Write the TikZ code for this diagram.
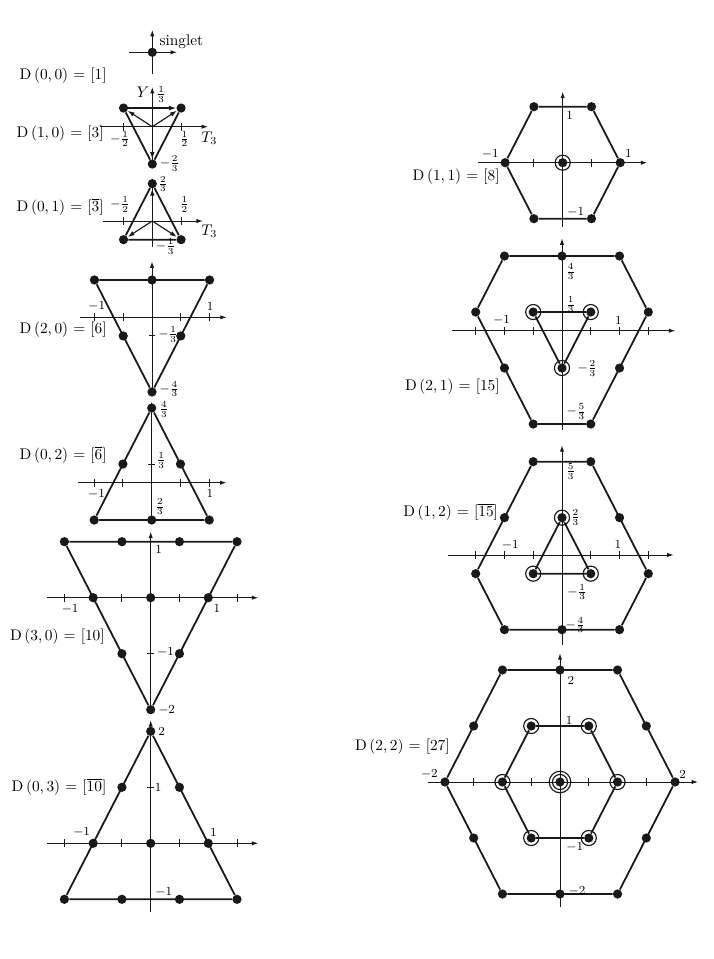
\documentclass[tikz,border=0pt]{standalone}
\usepackage{amsmath}
\usepackage{tikz}
\usetikzlibrary{arrows.meta}

\begin{document}
\begin{tikzpicture}[x=0.65pt, y=-0.65pt,
    dot/.style={circle, fill=black!90, inner sep=0pt, minimum size=6pt},
    ring/.style={circle, draw=black!90, line width=0.75pt, inner sep=0pt,
      minimum size=9.8pt},
    bigring/.style={ring, minimum size=14pt},
    ax/.style={-{Latex[length=4.2pt,width=2.8pt]}, line width=0.65pt, black!90},
    axtick/.style={line width=0.65pt, black!90},
    wline/.style={line width=1.15pt, black!90},
    arr/.style={-{Latex[length=4.5pt,width=3pt]}, line width=0.75pt, black!90},
    num/.style={font=\footnotesize, inner sep=1pt},
    rep/.style={anchor=east, inner sep=0pt},
    lat/.style={x=37.4pt, y=36.4pt}
]
\fill[white] (0,0) rectangle (714,959);
\useasboundingbox (0,0) rectangle (714,959);

% singlet
\begin{scope}[shift={(152.3,52.3)}, lat]
  \draw[ax] (-0.4,0) -- (0.43,0);
  \draw[ax] (0,-0.39) -- (0,0.4);
  \node[dot] (one) at (0,0) {};
  \node[anchor=west, inner sep=0pt] (one-name) at (0.12,0.19) {singlet};
\end{scope}
\node[rep] (rep-one) at (107,76) {D\,(0,\,0) $=$ [1]};

% triplet
\begin{scope}[shift={(152.3,126.7)}, lat]
  \draw[ax] (-0.91,0) -- (0.97,0);
  \draw[ax] (0,-0.6) -- (0,0.71);
  \foreach \t in {-0.5,0.5} \draw[axtick] (\t,-0.07) -- (\t,0.07);
  \coordinate (tri-o) at (0,0);
  \node[dot] (tri-u) at (-0.5,1/3) {};
  \node[dot] (tri-d) at (0.5,1/3) {};
  \node[dot] (tri-s) at (0,-2/3) {};
  \draw[arr] (tri-o) -- (tri-u);
  \draw[arr] (tri-o) -- (tri-d);
  \draw[arr] (tri-o) -- (tri-s);
  \draw[arr] (tri-u) -- (tri-d);
  \draw[wline] (tri-d) -- (tri-s) -- (tri-u);
  \node[num, font=\normalsize] (tri-y) at (-0.16,0.62) {$Y$};
  \node[num, anchor=west] (tri-f1) at (0.04,0.58) {$\frac{1}{3}$};
  \node[num, font=\normalsize] (tri-t3) at (0.99,-0.2) {$T_3$};
  \node[num] (tri-f2) at (-0.56,-0.22) {$-\frac{1}{2}$};
  \node[num] (tri-f3) at (0.56,-0.22) {$\frac{1}{2}$};
  \node[num, anchor=west] (tri-f4) at (0.1,-0.66) {$-\frac{2}{3}$};
\end{scope}
\node[rep] (rep-tri) at (104,134) {D\,(1,\,0) $=$ [3]};

% antitriplet
\begin{scope}[shift={(152.3,221)}, lat]
  \draw[ax] (-0.86,0) -- (0.88,0);
  \draw[ax] (0,-0.46) -- (0,0.72);
  \foreach \t in {-0.5,0.5} \draw[axtick] (\t,-0.07) -- (\t,0.07);
  \coordinate (bar-o) at (0,0);
  \node[dot] (bar-u) at (0,2/3) {};
  \node[dot] (bar-l) at (-0.5,-1/3) {};
  \node[dot] (bar-r) at (0.5,-1/3) {};
  \draw[arr] (bar-o) -- (bar-u);
  \draw[arr] (bar-o) -- (bar-l);
  \draw[arr] (bar-o) -- (bar-r);
  \draw[wline] (bar-l) -- (bar-r) -- (bar-u) -- (bar-l);
  \node[num, anchor=west] (bar-f1) at (0.07,0.66) {$\frac{2}{3}$};
  \node[num] (bar-f2) at (-0.56,0.3) {$-\frac{1}{2}$};
  \node[num] (bar-f3) at (0.56,0.3) {$\frac{1}{2}$};
  \node[num, font=\normalsize] (bar-t3) at (0.99,-0.18) {$T_3$};
  \node[num, anchor=west] (bar-f4) at (0.03,-0.46) {$-\frac{1}{3}$};
\end{scope}
\node[rep] (rep-bar) at (104,207) {D\,(0,\,1) $=$ [$\overline{3}$]};

% sextet
\begin{scope}[shift={(152,317.3)}, lat]
  \draw[ax] (-1.25,0) -- (1.3,0);
  \draw[ax] (0,-4/3) -- (0,1);
  \foreach \t in {-1,-0.5,0.5,1} \draw[axtick] (\t,-0.07) -- (\t,0.07);
  \draw[axtick] (-0.06,-1/3) -- (0.06,-1/3);
  \foreach \x [count=\i] in {-1,0,1} \node[dot] (six-a\i) at (\x,2/3) {};
  \foreach \x [count=\i] in {-0.5,0.5} \node[dot] (six-b\i) at (\x,-1/3) {};
  \node[dot] (six-c1) at (0,-4/3) {};
  \draw[wline] (six-a1) -- (six-a3) -- (six-c1) -- (six-a1);
  \node[num] (six-n1) at (-0.96,0.19) {$-1$};
  \node[num] (six-n2) at (1.01,0.19) {$1$};
  \node[num, anchor=west] (six-f1) at (0.08,-0.3) {$-\frac{1}{3}$};
  \node[num, anchor=west] (six-f2) at (0.1,-1.28) {$-\frac{4}{3}$};
\end{scope}
\node[rep] (rep-six) at (107,330) {D\,(2,\,0) $=$ [6]};

% antisextet
\begin{scope}[shift={(151.7,482.7)}, lat]
  \draw[ax] (-1.28,0) -- (1.3,0);
  \draw[ax] (0,-2/3) -- (0,1.45);
  \foreach \t in {-1,-0.5,0.5,1} \draw[axtick] (\t,-0.07) -- (\t,0.07);
  \draw[axtick] (-0.06,1/3) -- (0.06,1/3);
  \node[dot] (sixb-a1) at (0,4/3) {};
  \foreach \x [count=\i] in {-0.5,0.5} \node[dot] (sixb-b\i) at (\x,1/3) {};
  \foreach \x [count=\i] in {-1,0,1} \node[dot] (sixb-c\i) at (\x,-2/3) {};
  \draw[wline] (sixb-a1) -- (sixb-c1) -- (sixb-c3) -- (sixb-a1);
  \node[num, anchor=west] (sixb-f1) at (0.1,1.31) {$\frac{4}{3}$};
  \node[num, anchor=west] (sixb-f2) at (0.05,0.4) {$\frac{1}{3}$};
  \node[num] (sixb-n1) at (-0.96,-0.2) {$-1$};
  \node[num] (sixb-n2) at (1.01,-0.2) {$1$};
  \node[num, anchor=west] (sixb-f3) at (0.03,-0.43) {$\frac{2}{3}$};
\end{scope}
\node[rep] (rep-sixb) at (107,455) {D\,(0,\,2) $=$ [$\overline{6}$]};

% decuplet
\begin{scope}[shift={(150.7,597.7)}, lat]
  \draw[ax] (-1.81,0) -- (1.87,0);
  \draw[ax] (0,-2) -- (0,1.18);
  \foreach \t in {-1.5,-0.5,0.5,1.5} \draw[axtick] (\t,-0.07) -- (\t,0.07);
  \draw[axtick] (-0.06,-1) -- (0.06,-1);
  \foreach \x [count=\i] in {-1.5,-0.5,0.5,1.5} \node[dot] (ten-a\i) at (\x,1) {};
  \foreach \x [count=\i] in {-1,0,1} \node[dot] (ten-b\i) at (\x,0) {};
  \foreach \x [count=\i] in {-0.5,0.5} \node[dot] (ten-c\i) at (\x,-1) {};
  \node[dot] (ten-d1) at (0,-2) {};
  \draw[wline] (ten-a1) -- (ten-a4) -- (ten-d1) -- (ten-a1);
  \node[num, anchor=west] (ten-n1) at (0.05,0.86) {$1$};
  \node[num] (ten-n2) at (-1.4,-0.2) {$-1$};
  \node[num] (ten-n3) at (1.15,-0.2) {$1$};
  \node[num, anchor=west] (ten-n4) at (0.08,-0.98) {$-1$};
  \node[num, anchor=west] (ten-n5) at (0.1,-2) {$-2$};
\end{scope}
\node[rep] (rep-ten) at (105,636.7) {D\,(3,\,0) $=$ [10]};

% antidecuplet
\begin{scope}[shift={(150.7,843.3)}, lat]
  \draw[ax] (-1.81,0) -- (1.87,0);
  \draw[ax] (0,-1.22) -- (0,2.2);
  \foreach \t in {-1.5,-0.5,0.5,1.5} \draw[axtick] (\t,-0.07) -- (\t,0.07);
  \draw[axtick] (-0.06,1) -- (0.06,1);
  \node[dot] (tenb-a1) at (0,2) {};
  \foreach \x [count=\i] in {-0.5,0.5} \node[dot] (tenb-b\i) at (\x,1) {};
  \foreach \x [count=\i] in {-1,0,1} \node[dot] (tenb-c\i) at (\x,0) {};
  \foreach \x [count=\i] in {-1.5,-0.5,0.5,1.5} \node[dot] (tenb-d\i) at (\x,-1) {};
  \draw[wline] (tenb-a1) -- (tenb-d1) -- (tenb-d4) -- (tenb-a1);
  \node[num, anchor=west] (tenb-n1) at (0.1,2) {$2$};
  \node[num, anchor=west] (tenb-n2) at (0.04,1) {$1$};
  \node[num] (tenb-n3) at (-1.2,0.19) {$-1$};
  \node[num] (tenb-n4) at (1.09,0.19) {$1$};
  \node[num, anchor=west] (tenb-n5) at (0.05,-0.88) {$-1$};
\end{scope}
\node[rep] (rep-tenb) at (106.7,786.7) {D\,(0,\,3) $=$ [$\overline{10}$]};

% octet
\begin{scope}[shift={(562.7,162.7)}, lat]
  \draw[ax] (-1.47,0) -- (1.47,0);
  \draw[ax] (0,-1.14) -- (0,1.27);
  \foreach \t in {-0.5,0.5} \draw[axtick] (\t,-0.07) -- (\t,0.07);
  \foreach \x [count=\i] in {-0.5,0.5} \node[dot] (oct-a\i) at (\x,1) {};
  \foreach \x [count=\i] in {-1,0,1} \node[dot] (oct-b\i) at (\x,0) {};
  \foreach \x [count=\i] in {-0.5,0.5} \node[dot] (oct-c\i) at (\x,-1) {};
  \node[ring] (oct-r1) at (oct-b2) {};
  \draw[wline] (oct-a1) -- (oct-a2) -- (oct-b3) -- (oct-c2) -- (oct-c1)
    -- (oct-b1) -- (oct-a1);
  \node[num, anchor=west] (oct-n1) at (0.03,0.84) {$1$};
  \node[num] (oct-n2) at (-1.26,0.16) {$-1$};
  \node[num] (oct-n3) at (1.14,0.16) {$1$};
  \node[num, anchor=west] (oct-n4) at (0.05,-0.89) {$-1$};
\end{scope}
\node[rep] (rep-oct) at (500,176.7) {D\,(1,\,1) $=$ [8]};

% 15-plet
\begin{scope}[shift={(562,330.7)}, lat]
  \draw[ax] (-1.92,0) -- (1.97,0);
  \draw[ax] (0,-1.77) -- (0,1.65);
  \foreach \t in {-1.5,-1,-0.5,0.5,1,1.5} \draw[axtick] (\t,-0.07) -- (\t,0.07);
  \foreach \x [count=\i] in {-1,0,1} \node[dot] (fif-a\i) at (\x,4/3) {};
  \foreach \x [count=\i] in {-1.5,-0.5,0.5,1.5} \node[dot] (fif-b\i) at (\x,1/3) {};
  \foreach \x [count=\i] in {-1,0,1} \node[dot] (fif-c\i) at (\x,-2/3) {};
  \foreach \x [count=\i] in {-0.5,0.5} \node[dot] (fif-d\i) at (\x,-5/3) {};
  \node[ring] (fif-r1) at (fif-b2) {};
  \node[ring] (fif-r2) at (fif-b3) {};
  \node[ring] (fif-r3) at (fif-c2) {};
  \draw[wline] (fif-a1) -- (fif-a3) -- (fif-b4) -- (fif-d2) -- (fif-d1)
    -- (fif-b1) -- (fif-a1);
  \draw[wline] (fif-b2) -- (fif-b3) -- (fif-c2) -- (fif-b2);
  \node[num, anchor=west] (fif-f1) at (0.04,1.05) {$\frac{4}{3}$};
  \node[num, anchor=west] (fif-f2) at (0.04,0.46) {$\frac{1}{3}$};
  \node[num] (fif-n1) at (-1.05,0.19) {$-1$};
  \node[num] (fif-n2) at (0.98,0.19) {$1$};
  \node[num, anchor=west] (fif-f3) at (0.24,-0.67) {$-\frac{2}{3}$};
  \node[num, anchor=west] (fif-f4) at (0.05,-1.45) {$-\frac{5}{3}$};
\end{scope}
\node[rep] (rep-fif) at (500,386.7) {D\,(2,\,1) $=$ [15]};

% anti-15-plet
\begin{scope}[shift={(562,555)}, lat]
  \draw[ax] (-1.98,0) -- (1.94,0);
  \draw[ax] (0,-1.6) -- (0,1.96);
  \foreach \t in {-1.5,-1,-0.5,0.5,1,1.5} \draw[axtick] (\t,-0.07) -- (\t,0.07);
  \foreach \x [count=\i] in {-0.5,0.5} \node[dot] (fifb-a\i) at (\x,5/3) {};
  \foreach \x [count=\i] in {-1,0,1} \node[dot] (fifb-b\i) at (\x,2/3) {};
  \foreach \x [count=\i] in {-1.5,-0.5,0.5,1.5} \node[dot] (fifb-c\i) at (\x,-1/3) {};
  \foreach \x [count=\i] in {-1,0,1} \node[dot] (fifb-d\i) at (\x,-4/3) {};
  \node[ring] (fifb-r1) at (fifb-b2) {};
  \node[ring] (fifb-r2) at (fifb-c2) {};
  \node[ring] (fifb-r3) at (fifb-c3) {};
  \draw[wline] (fifb-a1) -- (fifb-a2) -- (fifb-c4) -- (fifb-d3) -- (fifb-d1)
    -- (fifb-c1) -- (fifb-a1);
  \draw[wline] (fifb-b2) -- (fifb-c3) -- (fifb-c2) -- (fifb-b2);
  \node[num, anchor=west] (fifb-f1) at (0.04,1.49) {$\frac{5}{3}$};
  \node[num, anchor=west] (fifb-f2) at (0.12,0.67) {$\frac{2}{3}$};
  \node[num] (fifb-n1) at (-0.9,0.18) {$-1$};
  \node[num] (fifb-n2) at (0.97,0.18) {$1$};
  \node[num, anchor=west] (fifb-f3) at (0.06,-0.66) {$-\frac{1}{3}$};
  \node[num, anchor=west] (fifb-f4) at (0.03,-1.25) {$-\frac{4}{3}$};
\end{scope}
\node[rep] (rep-fifb) at (498.3,511.7) {D\,(1,\,2) $=$ [$\overline{15}$]};

% 27-plet
\begin{scope}[shift={(560,782)}, lat]
  \draw[ax] (-2.3,0) -- (2.4,0);
  \draw[ax] (0,-2.23) -- (0,2.3);
  \foreach \t in {-1.5,-0.5,0.5,1.5} \draw[axtick] (\t,-0.07) -- (\t,0.07);
  \foreach \x [count=\i] in {-1,0,1} \node[dot] (tws-a\i) at (\x,2) {};
  \foreach \x [count=\i] in {-1.5,-0.5,0.5,1.5} \node[dot] (tws-b\i) at (\x,1) {};
  \foreach \x [count=\i] in {-2,-1,0,1,2} \node[dot] (tws-c\i) at (\x,0) {};
  \foreach \x [count=\i] in {-1.5,-0.5,0.5,1.5} \node[dot] (tws-d\i) at (\x,-1) {};
  \foreach \x [count=\i] in {-1,0,1} \node[dot] (tws-e\i) at (\x,-2) {};
  \node[ring] (tws-r1) at (tws-b2) {};
  \node[ring] (tws-r2) at (tws-b3) {};
  \node[ring] (tws-r3) at (tws-c2) {};
  \node[ring] (tws-r4) at (tws-c4) {};
  \node[ring] (tws-r5) at (tws-d2) {};
  \node[ring] (tws-r6) at (tws-d3) {};
  \node[ring] (tws-r7) at (tws-c3) {};
  \node[bigring] (tws-r8) at (tws-c3) {};
  \draw[wline] (tws-a1) -- (tws-a3) -- (tws-c5) -- (tws-e3) -- (tws-e1)
    -- (tws-c1) -- (tws-a1);
  \draw[wline] (tws-b2) -- (tws-b3) -- (tws-c4) -- (tws-d3) -- (tws-d2)
    -- (tws-c2) -- (tws-b2);
  \node[num, anchor=west] (tws-n1) at (0.1,1.82) {$2$};
  \node[num, anchor=west] (tws-n2) at (0.07,1.1) {$1$};
  \node[num] (tws-n3) at (-2.27,0.14) {$-2$};
  \node[num] (tws-n4) at (2.13,0.14) {$2$};
  \node[num, anchor=west] (tws-n5) at (0.08,-1.17) {$-1$};
  \node[num, anchor=west] (tws-n6) at (0.12,-1.95) {$-2$};
\end{scope}
\node[rep] (rep-tws) at (450,746.7) {D\,(2,\,2) $=$ [27]};
\end{tikzpicture}
\end{document}
